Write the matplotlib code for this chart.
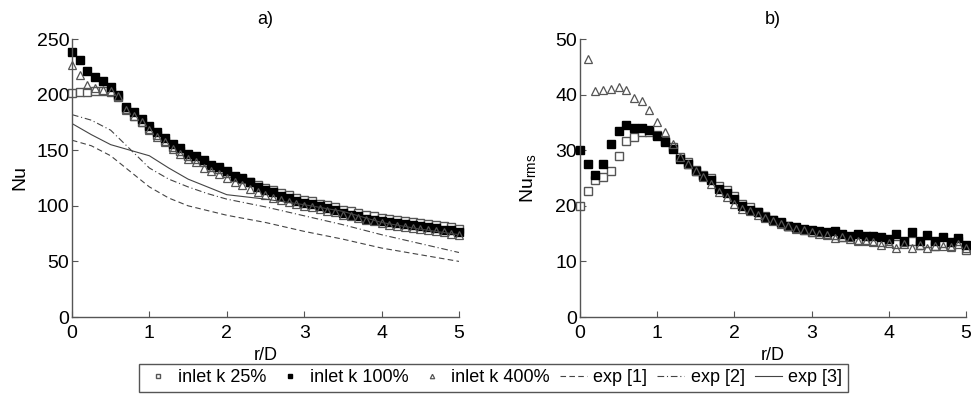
import numpy as np
import matplotlib
matplotlib.use("Agg")
import matplotlib.pyplot as plt

plt.rcParams['font.family'] = ['Liberation Sans', 'DejaVu Sans']
plt.rcParams['font.size'] = 13

# radial positions r/D
r = np.linspace(0, 5, 51)

# mean Nusselt number
nu_k25 = [201, 202, 202, 203, 203, 202, 198, 187, 181, 175,
          169, 164, 158, 153, 149, 145, 142, 139, 135, 133,
          129.5, 126, 124, 121, 118.5, 116, 114, 111.5, 109.5, 107,
          105, 104, 102, 100.5, 98.5, 96.5, 95, 93.5, 92, 90.5,
          89, 88, 87.5, 86.5, 85.5, 84.5, 83.5, 82.5, 81.5, 80.5, 79]
nu_k100 = [238, 231, 221, 216, 212, 207, 200, 189, 184, 178,
           172, 166, 161, 156, 152, 147, 145, 141, 137, 135,
           131, 127, 125, 121, 117, 114, 112, 109, 107, 104.5,
           102.5, 101.5, 99.5, 98, 96, 93.5, 92, 90.5, 88.5, 87.5,
           86, 85, 84.5, 83.5, 83, 81.5, 80.5, 80, 78.5, 78.5, 76]
nu_k400 = [227, 218, 209, 206, 204, 203, 199, 186, 181, 175,
           168, 162, 157, 151, 147, 142, 139, 134, 131, 129,
           125, 121, 119, 115, 112, 109.5, 107, 105, 103.5, 101.5,
           100, 98.5, 97, 95.5, 94, 92, 90.5, 89, 87.5, 86,
           84.5, 83, 82, 81, 80, 79, 78, 77, 76, 75, 74]

# experimental curves
exp1_r = [0, 0.25, 0.5, 0.75, 1.0, 1.25, 1.5, 2.0, 2.5, 3.0, 3.5, 4.0, 4.5, 5.0]
exp1_nu = [159, 154, 145, 131, 117, 107, 100, 91.5, 85, 77, 70, 62, 56, 50]
exp2_r = [0, 0.25, 0.5, 0.75, 1.0, 1.25, 1.5, 1.75, 2.0, 2.5, 3.0, 3.5, 4.0, 4.5, 5.0]
exp2_nu = [182, 177, 168, 151, 134, 124, 117, 111, 106, 99, 91, 83, 74, 66, 58]
exp3_r = [0, 0.25, 0.5, 0.75, 1.0, 1.25, 1.5, 1.75, 2.0, 2.5, 3.0, 3.5, 4.0, 4.5, 5.0]
exp3_nu = [174, 164, 155, 150, 145, 134, 124, 117, 110, 106, 101, 95, 85, 79, 74]

# rms of Nusselt number
rms_k25 = [20.0, 22.7, 24.7, 25.1, 26.3, 29.0, 31.6, 32.3, 33.2, 33.2,
           32.8, 31.7, 30.5, 28.8, 27.8, 26.5, 25.6, 25.0, 23.5, 22.8,
           21.7, 20.3, 19.8, 18.9, 18.2, 17.4, 16.9, 16.4, 16.0, 15.7,
           15.3, 15.2, 15.0, 14.7, 14.4, 14.3, 13.8, 13.9, 13.6, 13.4,
           13.6, 13.2, 13.5, 13.6, 13.0, 13.3, 12.8, 13.3, 12.8, 13.6, 12.1]
rms_k100 = [30.1, 27.5, 25.5, 27.5, 31.1, 33.5, 34.6, 34.0, 34.0, 33.7,
            32.6, 31.4, 30.3, 28.4, 27.5, 26.3, 25.4, 24.6, 23.0, 22.3,
            21.3, 20.0, 19.3, 18.8, 17.9, 17.5, 17.0, 16.4, 16.1, 15.8,
            15.6, 15.4, 15.2, 15.4, 14.9, 14.5, 14.9, 14.5, 14.5, 14.4,
            14.0, 14.9, 13.7, 15.2, 13.6, 14.7, 13.6, 14.4, 13.4, 14.2, 12.9]
rms_k400 = [np.nan, 46.4, 40.7, 40.9, 41.0, 41.3, 40.9, 39.4, 38.8, 37.3,
            35.0, 33.2, 31.1, 28.8, 27.6, 26.2, 25.2, 24.0, 22.4, 21.6,
            20.4, 19.5, 19.0, 18.4, 17.8, 17.3, 16.8, 16.3, 15.9, 15.6,
            15.2, 15.0, 14.8, 14.2, 14.3, 14.0, 13.6, 13.7, 13.4, 13.0,
            13.3, 12.4, 13.2, 12.5, 12.9, 12.4, 12.7, 12.7, 12.6, 13.2, 12.5]

grey = '#555555'
line_c = '#444444'
ms = 5.3


def style_axes(ax, ymax, yticks):
    ax.set_xlim(0, 5)
    ax.set_ylim(0, ymax)
    ax.set_xticks([0, 1, 2, 3, 4, 5])
    ax.set_yticks(yticks)
    ax.spines['top'].set_visible(False)
    ax.spines['right'].set_visible(False)
    for s in ('left', 'bottom'):
        ax.spines[s].set_color(grey)
        ax.spines[s].set_linewidth(1.0)
    ax.tick_params(direction='in', length=4, color=grey, labelsize=14)
    ax.tick_params(axis='x', pad=6)
    ax.tick_params(axis='y', pad=2)
    ax.set_xlabel('r/D', fontsize=13, labelpad=3)


fig = plt.figure(figsize=(9.71, 4.0), dpi=100)
ax1 = fig.add_axes([0.0741, 0.2075, 0.3986, 0.695])
ax2 = fig.add_axes([0.5973, 0.2075, 0.3975, 0.695])

ax1.plot(r, nu_k25, 's', ms=ms, mfc='white', mec=grey, mew=1.0, clip_on=False, label='inlet k 25%')
ax1.plot(r, nu_k100, 's', ms=ms, mfc='black', mec='black', clip_on=False, label='inlet k 100%')
ax1.plot(r, nu_k400, '^', ms=ms, mfc='none', mec=grey, mew=0.9, clip_on=False, label='inlet k 400%')
ax1.plot(exp1_r, exp1_nu, '--', color=line_c, lw=0.8, dashes=(5, 3), label='exp [1]')
ax1.plot(exp2_r, exp2_nu, '-.', color=line_c, lw=0.8, dashes=(6, 2.5, 1, 2.5), label='exp [2]')
ax1.plot(exp3_r, exp3_nu, '-', color=line_c, lw=0.8, label='exp [3]')
style_axes(ax1, 250, [0, 50, 100, 150, 200, 250])
ax1.set_ylabel('Nu', fontsize=14, labelpad=6)
ax1.set_title('a)', fontsize=13, pad=11)

ax2.plot(r, rms_k25, 's', ms=ms, mfc='white', mec=grey, mew=1.0, clip_on=False)
ax2.plot(r, rms_k100, 's', ms=ms, mfc='black', mec='black', clip_on=False)
ax2.plot(r, rms_k400, '^', ms=ms, mfc='none', mec=grey, mew=0.9, clip_on=False)
style_axes(ax2, 50, [0, 10, 20, 30, 40, 50])
ax2.set_ylabel('Nu$_{\\mathregular{rms}}$', fontsize=14, labelpad=12)
ax2.set_title('b)', fontsize=13, pad=11)

handles, labels = ax1.get_legend_handles_labels()
leg = fig.legend(handles, labels, loc='center', bbox_to_anchor=(0.508, 0.055),
                 ncol=6, fontsize=13, markerscale=0.6, handlelength=1.5,
                 handletextpad=0.35, columnspacing=0.55, borderpad=0.3,
                 fancybox=False, framealpha=1)
leg.get_frame().set_edgecolor(grey)
leg.get_frame().set_linewidth(1.0)

fig.savefig('out.png', dpi=100)
